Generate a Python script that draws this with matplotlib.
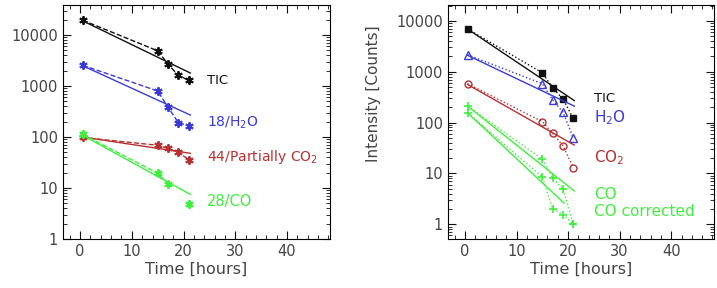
import numpy as np
import matplotlib
matplotlib.use("Agg")
import matplotlib.pyplot as plt
from matplotlib.ticker import FixedLocator, LogLocator, MultipleLocator, FuncFormatter, NullFormatter

# ---- data: left panel ----
t_left = [0.5, 15, 17, 19, 21]
tic_left = [19500, 4900, 2660, 1620, 1290]
h2o_left = [2550, 800, 382, 191, 167]
co2_left = [98, 69, 60, 50, 36]
t_co_left = [0.5, 15, 17, 21]
co_left = [113, 19.5, 12, 4.9]
# fit lines (start, end values)
fit_t_left = [0.5, 21.3]
tic_fit_left = [19000, 1800]
h2o_fit_left = [2500, 270]
co2_fit_left = [100, 48]
co_fit_left = [108, 7.5]

# ---- data: right panel ----
t_right = [0.5, 15, 17, 19, 21]
tic_right = [6900, 950, 480, 290, 120]
h2o_right = [2150, 580, 280, 160, 50]
co2_right = [580, 104, 61, 35, 13]
co_right = [210, 19, 8, 5, 1]
coc_right = [155, 8.5, 2, 1.55, 1]
fit_t_right = [0.5, 21.2]
fit_t_coc = [0.5, 19.2]
tic_fit_right = [6900, 270]
h2o_fit_right = [2100, 210]
co2_fit_right = [560, 36]
co_fit_right = [210, 4.5]
coc_fit_right = [155, 2.6]

BLACK = "#111111"
BLUE = "#3a3ad6"
RED = "#b83030"
GREEN = "#3ef03e"
TXT = "#444444"

plt.rcParams['font.family'] = ['DejaVu Sans']
plt.rcParams['font.size'] = 10.5
plt.rcParams['text.color'] = TXT
plt.rcParams['xtick.color'] = BLACK
plt.rcParams['ytick.color'] = BLACK
plt.rcParams['xtick.labelcolor'] = TXT
plt.rcParams['ytick.labelcolor'] = TXT

fig = plt.figure(figsize=(7.17, 2.88), dpi=100)
ax1 = fig.add_axes([0.0879, 0.170, 0.3724, 0.813])
ax2 = fig.add_axes([0.6248, 0.170, 0.3710, 0.813])

ast = (6, 2, 0)

def style(ax, ylim):
    ax.set_yscale('log')
    ax.set_xlim(-3.3, 48.3)
    ax.set_ylim(*ylim)
    ax.xaxis.set_major_locator(MultipleLocator(10))
    ax.xaxis.set_minor_locator(MultipleLocator(2))
    ax.yaxis.set_major_locator(FixedLocator([1, 10, 100, 1000, 10000]))
    ax.yaxis.set_minor_locator(LogLocator(base=10, subs=np.arange(2, 10)))
    ax.yaxis.set_major_formatter(FuncFormatter(lambda v, p: f"{v:g}" if v >= 1 else ""))
    ax.yaxis.set_minor_formatter(NullFormatter())
    ax.tick_params(which='both', direction='in', top=True, right=True, labelsize=10.5)
    ax.tick_params(which='major', length=6, width=0.8)
    ax.tick_params(which='minor', length=3, width=0.6)
    for s in ax.spines.values():
        s.set_linewidth(0.8)
    ax.set_xlabel("Time [hours]", fontsize=11.5, color=TXT, labelpad=2)

# Left panel
style(ax1, (1, 39000))
for y, fit, c in [(tic_left, tic_fit_left, BLACK), (h2o_left, h2o_fit_left, BLUE), (co2_left, co2_fit_left, RED)]:
    ax1.plot(t_left, y, ls='--', color=c, lw=1, marker=ast, ms=6, mew=1.4)
    ax1.plot(fit_t_left, fit, ls='-', color=c, lw=1)
ax1.plot(t_co_left[:3], co_left[:3], ls='--', color=GREEN, lw=1)
ax1.plot(t_co_left, co_left, ls='none', color=GREEN, marker=ast, ms=6, mew=1.4)
ax1.plot(fit_t_left, co_fit_left, ls='-', color=GREEN, lw=1)

ax1.text(24.5, 1290, "TIC", color=BLACK, fontsize=9.5, va='center')
ax1.text(24.5, 190, "18/H$_2$O", color=BLUE, fontsize=10, va='center')
ax1.text(24.5, 40, "44/Partially CO$_2$", color=RED, fontsize=10, va='center')
ax1.text(24.5, 5.5, "28/CO", color=GREEN, fontsize=10.5, va='center')

# Right panel
style(ax2, (0.51, 20600))
ax2.set_ylabel("Intensity [Counts]", fontsize=11, color=TXT)
ax2.yaxis.set_label_coords(-0.25, 0.62)
ax2.plot(t_right, tic_right, ls=':', color=BLACK, lw=1, marker='s', ms=4, mfc=BLACK, mec=BLACK)
ax2.plot(fit_t_right, tic_fit_right, ls='-', color=BLACK, lw=1)
ax2.plot(t_right, h2o_right, ls=':', color=BLUE, lw=1, marker='^', ms=6, mfc='none', mec=BLUE)
ax2.plot(fit_t_right, h2o_fit_right, ls='-', color=BLUE, lw=1)
ax2.plot(t_right, co2_right, ls=':', color=RED, lw=1, marker='o', ms=5, mfc='none', mec=RED)
ax2.plot(fit_t_right, co2_fit_right, ls='-', color=RED, lw=1)
ax2.plot(t_right, co_right, ls=':', color=GREEN, lw=1, marker='+', ms=6, mew=1.2)
ax2.plot(fit_t_right, co_fit_right, ls='-', color=GREEN, lw=1)
ax2.plot(t_right, coc_right, ls=':', color=GREEN, lw=1, marker='+', ms=6, mew=1.2)
ax2.plot(fit_t_coc, coc_fit_right, ls='-', color=GREEN, lw=1)

ax2.text(25, 300, "TIC", color=BLACK, fontsize=9.5, va='center')
ax2.text(25, 125, "H$_2$O", color=BLUE, fontsize=11, va='center')
ax2.text(25, 20, "CO$_2$", color=RED, fontsize=11, va='center')
ax2.text(25, 3.8, "CO", color=GREEN, fontsize=11, va='center')
ax2.text(25, 1.8, "CO corrected", color=GREEN, fontsize=11, va='center')

fig.savefig("out.png", dpi=100)
